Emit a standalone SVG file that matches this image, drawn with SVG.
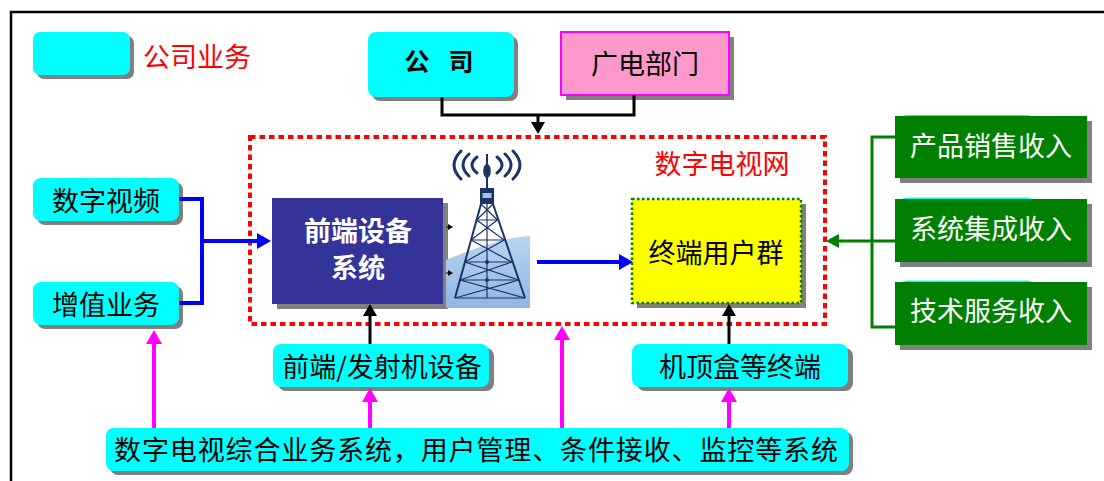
<svg xmlns="http://www.w3.org/2000/svg" width="1104" height="481" viewBox="0 0 1104 481">
  <style>
    text { font-family: "Noto Sans CJK SC", "Noto Sans", sans-serif; text-anchor: middle; dominant-baseline: central; }
    .shadow { fill: #808080; }
    .cyan { fill: #00FFFF; }
    .green { fill: #008000; }
    .lbl { font-size: 27px; fill: #000; }
    .wlbl { font-size: 27px; fill: #FFFFFF; }
    .red { font-size: 27px; fill: #FF0000; }
    .blue { stroke: #0000FF; stroke-width: 4; fill: none; }
    .grn { stroke: #008000; stroke-width: 3; fill: none; }
    .blk { stroke: #000; stroke-width: 3; fill: none; }
    .mag { stroke: #FF00FF; stroke-width: 4; fill: none; }
    .twr { stroke: #1B3468; fill: none; }
  </style>
  <defs>
    <marker id="ahBlue" markerUnits="userSpaceOnUse" markerWidth="14" markerHeight="16" refX="2" refY="8" orient="auto">
      <path d="M0,0 L14,8 L0,16 Z" fill="#0000FF"/>
    </marker>
    <marker id="ahGreen" markerUnits="userSpaceOnUse" markerWidth="13" markerHeight="14" refX="2" refY="7" orient="auto">
      <path d="M0,0 L13,7 L0,14 Z" fill="#008000"/>
    </marker>
    <marker id="ahBlack" markerUnits="userSpaceOnUse" markerWidth="12" markerHeight="14" refX="2" refY="7" orient="auto">
      <path d="M0,0 L12,7 L0,14 Z" fill="#000"/>
    </marker>
    <marker id="ahMag" markerUnits="userSpaceOnUse" markerWidth="14" markerHeight="16" refX="2" refY="8" orient="auto">
      <path d="M0,0 L14,8 L0,16 Z" fill="#FF00FF"/>
    </marker>
    <marker id="ahTiny" markerUnits="userSpaceOnUse" markerWidth="5" markerHeight="6" refX="1" refY="3" orient="auto">
      <path d="M0,0 L5,3 L0,6 Z" fill="#000"/>
    </marker>
    <linearGradient id="hill" x1="0" y1="0" x2="0" y2="1">
      <stop offset="0" stop-color="#B9D4F0"/>
      <stop offset="1" stop-color="#8FB7E2"/>
    </linearGradient>
  </defs>

  <rect width="1104" height="481" fill="#FFFFFF"/>
  <!-- page frame -->
  <path d="M11,490 V12 H1110" fill="none" stroke="#000" stroke-width="2.5"/>

  <!-- legend -->
  <g id="legend">
    <rect class="shadow" x="37" y="36" width="97" height="43" rx="7"/>
    <rect class="cyan" x="33" y="32" width="97" height="43" rx="7"/>
    <text class="red" x="197" y="55">公司业务</text>
  </g>

  <!-- digital TV network boundary -->
  <g id="dtv-network">
    <rect x="250" y="137" width="575" height="187" fill="none" stroke="#FF0000" stroke-width="4" stroke-dasharray="5.5 4"/>
    <text class="red" x="722" y="162">数字电视网</text>
  </g>

  <g id="company">
    <rect class="shadow" x="372" y="36" width="146" height="65" rx="8"/>
    <rect class="cyan" x="368" y="32" width="146" height="65" rx="8"/>
    <text x="417" y="60" font-size="25" font-weight="bold">公</text>
    <text x="461" y="60" font-size="25" font-weight="bold">司</text>
  </g>

  <g id="broadcast-dept">
    <rect class="shadow" x="566" y="37" width="168" height="63"/>
    <rect x="561" y="32" width="168" height="63" fill="#FF99CC" stroke="#FF00FF" stroke-width="2"/>
    <text class="lbl" x="645" y="62">广电部门</text>
  </g>

  <g id="digital-video">
    <rect class="shadow" x="37" y="182" width="146" height="43" rx="8"/>
    <rect class="cyan" x="33" y="178" width="146" height="43" rx="8"/>
    <text class="lbl" x="106" y="199">数字视频</text>
  </g>

  <g id="value-added">
    <rect class="shadow" x="37" y="286" width="146" height="43" rx="8"/>
    <rect class="cyan" x="33" y="282" width="146" height="43" rx="8"/>
    <text class="lbl" x="106" y="303">增值业务</text>
  </g>

  <g id="headend">
    <rect class="shadow" x="277" y="203" width="171" height="106"/>
    <rect x="272" y="198" width="171" height="106" fill="#333399"/>
    <text class="wlbl" x="358" y="229" font-size="26" font-weight="bold">前端设备</text>
    <text class="wlbl" x="358" y="266" font-size="26" font-weight="bold">系统</text>
  </g>

  <!-- transmitter tower -->
  <g id="tower">
    <path d="M446,260 C470,250 500,238 530,236 V308 H446 Z" fill="url(#hill)"/>
    <g class="twr" stroke-width="3" stroke-linecap="round">
      <path d="M461,151 Q447,165 461,179 M469,154 Q457,165 469,176 M477,157 Q467,165 477,173"/>
      <path d="M513,151 Q527,165 513,179 M505,154 Q517,165 505,176 M497,157 Q507,165 497,173"/>
    </g>
    <line class="twr" x1="487" y1="154" x2="487" y2="190" stroke-width="2"/>
    <ellipse cx="487" cy="171" rx="3.8" ry="7" fill="#1B3468"/>
    <rect x="480" y="188" width="14" height="16" fill="#1B3468"/>
    <rect x="482.5" y="193" width="9" height="5" fill="#A9C2E2"/>
    <g class="twr" stroke-width="2">
      <path d="M481,204 L455,298 M493,204 L525,298"/>
    </g>
    <g class="twr" stroke-width="1.2">
      <path d="M476.6,220 H497.4 M471,240 H504.2 M464.9,262 H511.8 M459.9,280 H518.9 M455,298 H525"/>
      <path d="M481,204 L497.4,220 M493,204 L476.6,220"/>
      <path d="M476.6,220 L504.2,240 M497.4,220 L471,240"/>
      <path d="M471,240 L511.8,262 M504.2,240 L464.9,262"/>
      <path d="M464.9,262 L518.9,280 M511.8,262 L459.9,280"/>
      <path d="M459.9,280 L525,298 M518.9,280 L455,298"/>
      <path d="M487,204 V298"/>
    </g>
    <circle cx="487" cy="262" r="2" fill="#1B3468"/>
    <circle cx="487" cy="280" r="2" fill="#1B3468"/>
  </g>

  <g id="user-terminals">
    <rect class="shadow" x="637" y="204" width="169" height="104"/>
    <rect x="632" y="199" width="169" height="104" fill="#FFFF00" stroke="#008000" stroke-width="2.5" stroke-dasharray="2.5 2.5"/>
    <text class="lbl" x="716" y="251">终端用户群</text>
  </g>

  <g id="product-sales">
    <rect class="shadow" x="900" y="121" width="192" height="62"/>
    <rect class="cyan" x="899" y="115" width="136" height="30" rx="8"/>
    <rect class="green" x="895" y="116" width="192" height="62"/>
    <text class="wlbl" x="991" y="144">产品销售收入</text>
  </g>

  <g id="integration">
    <rect class="shadow" x="900" y="204" width="192" height="63"/>
    <rect class="cyan" x="899" y="197.5" width="136" height="30" rx="8"/>
    <rect class="green" x="895" y="199" width="192" height="63"/>
    <text class="wlbl" x="991" y="227">系统集成收入</text>
  </g>

  <g id="tech-service">
    <rect class="shadow" x="900" y="287" width="192" height="63"/>
    <rect class="cyan" x="899" y="280.5" width="136" height="30" rx="8"/>
    <rect class="green" x="895" y="282" width="192" height="63"/>
    <text class="wlbl" x="991" y="309">技术服务收入</text>
  </g>

  <g id="transmitter-equip">
    <rect class="shadow" x="278" y="348" width="216" height="43" rx="8"/>
    <rect class="cyan" x="273" y="344" width="216" height="43" rx="8"/>
    <text class="lbl" x="382" y="365">前端/发射机设备</text>
  </g>

  <g id="stb">
    <rect class="shadow" x="637" y="348" width="216" height="43" rx="8"/>
    <rect class="cyan" x="632" y="344" width="216" height="43" rx="8"/>
    <text class="lbl" x="740" y="365">机顶盒等终端</text>
  </g>

  <g id="business-system">
    <rect class="shadow" x="110" y="432" width="743" height="43" rx="8"/>
    <rect class="cyan" x="106" y="428" width="743" height="43" rx="8"/>
    <text class="lbl" x="476" y="448" font-size="28" textLength="724" lengthAdjust="spacing">数字电视综合业务系统，用户管理、条件接收、监控等系统</text>
  </g>

  <!-- connectors -->
  <g id="connectors">
    <path class="blk" d="M442,97 V115 H634 V95"/>
    <path class="blk" d="M538,115 V124" marker-end="url(#ahBlack)"/>

    <path class="blue" d="M179,199 H202 V303 H179"/>
    <path class="blue" d="M202,241 H259" marker-end="url(#ahBlue)"/>
    <path class="blue" d="M537,262 H621" marker-end="url(#ahBlue)"/>

    <path d="M446,227 H449" stroke="#000" stroke-width="1" marker-end="url(#ahTiny)"/>
    <path d="M446,273 H449" stroke="#000" stroke-width="1" marker-end="url(#ahTiny)"/>

    <path class="grn" d="M895,137 H872 V327 H895"/>
    <path class="grn" d="M895,241 H837" marker-end="url(#ahGreen)"/>

    <path class="blk" d="M370,344 V314" marker-end="url(#ahBlack)"/>
    <path class="blk" d="M729,344 V314" marker-end="url(#ahBlack)"/>

    <path class="mag" d="M154,428 V342" marker-end="url(#ahMag)"/>
    <path class="mag" d="M370,428 V400" marker-end="url(#ahMag)"/>
    <path class="mag" d="M562,428 V338" marker-end="url(#ahMag)"/>
    <path class="mag" d="M729,428 V400" marker-end="url(#ahMag)"/>
  </g>
</svg>
